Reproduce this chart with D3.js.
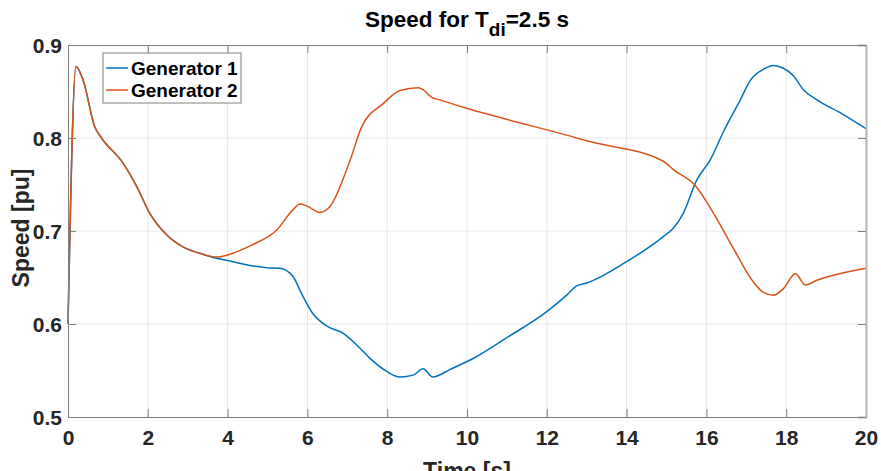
<!DOCTYPE html>
<html>
<head>
<meta charset="utf-8">
<script src="https://cdn.jsdelivr.net/npm/d3@7"></script>
<style>
  body { margin: 0; background: #fff; }
  svg { font-family: "Liberation Sans", Arial, sans-serif; }
</style>
</head>
<body>
<svg id="chart" width="881" height="471"></svg>
<script>
"use strict";

// Generator 1 (blue) - follows gen 2 until ~3.6 s
const gen1Time  = [0, 0.2, 0.38, 0.67, 0.84, 1.38, 1.72, 2.05, 2.47, 2.88, 3.3, 3.6, 4.13, 4.56, 4.98, 5.31, 5.64, 5.85, 6.14, 6.48, 6.9, 7.32, 7.57, 7.99, 8.32, 8.65, 8.9, 9.14, 9.57, 10.2, 10.95, 11.99, 12.5, 12.75, 13.0, 14.0, 14.92, 15.17, 15.42, 15.76, 16.09, 16.43, 16.85, 17.1, 17.43, 17.68, 17.93, 18.18, 18.43, 18.77, 19.4, 20];
const gen1Speed = [0.6, 0.877, 0.862, 0.812, 0.80, 0.773, 0.748, 0.719, 0.696, 0.683, 0.676, 0.672, 0.667, 0.663, 0.6605, 0.660, 0.651, 0.633, 0.611, 0.598, 0.590, 0.574, 0.563, 0.549, 0.543, 0.545, 0.552, 0.543, 0.551, 0.564, 0.584, 0.613, 0.631, 0.641, 0.644, 0.667, 0.694, 0.703, 0.719, 0.755, 0.776, 0.807, 0.841, 0.862, 0.874, 0.878, 0.875, 0.867, 0.852, 0.841, 0.826, 0.810];

// Generator 2 (orange)
const gen2Time  = [0, 0.2, 0.38, 0.67, 0.84, 1.38, 1.72, 2.05, 2.47, 2.88, 3.3, 3.72, 4.13, 4.56, 5.23, 5.64, 5.81, 5.98, 6.31, 6.56, 7.07, 7.36, 7.9, 8.32, 8.78, 8.9, 9.11, 9.32, 9.99, 10.83, 12.84, 13.0, 14.92, 15.17, 15.72, 16.18, 16.68, 17.18, 17.43, 17.68, 17.93, 18.23, 18.48, 18.77, 20];
const gen2Speed = [0.6, 0.877, 0.862, 0.812, 0.80, 0.773, 0.748, 0.719, 0.696, 0.683, 0.676, 0.672, 0.676, 0.684, 0.701, 0.723, 0.729, 0.727, 0.720, 0.726, 0.776, 0.812, 0.837, 0.851, 0.854, 0.852, 0.844, 0.841, 0.832, 0.822, 0.799, 0.797, 0.775, 0.766, 0.749, 0.719, 0.681, 0.645, 0.634, 0.631, 0.638, 0.654, 0.642, 0.647, 0.660];

const xTicks = [0, 2, 4, 6, 8, 10, 12, 14, 16, 18, 20];
const yTicks = [0.5, 0.6, 0.7, 0.8, 0.9];
const seriesNames = ["Generator 1", "Generator 2"];

const margin = {left: 68, right: 15, top: 45, bottom: 54};
const width = 881, height = 471;
const colors = ["#0072BD", "#D95319"];

const svg = d3.select("#chart");

const x = d3.scaleLinear().domain([0, 20]).range([margin.left, width - margin.right]);
const y = d3.scaleLinear().domain([0.5, 0.9]).range([height - margin.bottom, margin.top]);

// grid
const grid = svg.append("g");
grid.selectAll("line.gx")
    .data(xTicks.slice(1, -1))
    .enter().append("line")
    .attr("x1", d => x(d)).attr("x2", d => x(d))
    .attr("y1", y(0.5)).attr("y2", y(0.9))
    .attr("stroke", "#e6e6e6");
grid.selectAll("line.gy")
    .data(yTicks.slice(1, -1))
    .enter().append("line")
    .attr("y1", d => y(d)).attr("y2", d => y(d))
    .attr("x1", x(0)).attr("x2", x(20))
    .attr("stroke", "#e6e6e6");

// lines
const line = d3.line()
    .x(d => x(d[0]))
    .y(d => y(d[1]))
    .curve(d3.curveMonotoneX);

const series = [
    d3.zip(gen1Time, gen1Speed),
    d3.zip(gen2Time, gen2Speed)
];

svg.selectAll("path.series")
    .data(series)
    .enter().append("path")
    .attr("class", "series")
    .attr("d", line)
    .attr("fill", "none")
    .attr("stroke", (d, i) => colors[i])
    .attr("stroke-width", 1.5);

// axes (inward ticks, box)
const axisColor = "#7f7f7f";
const tickLen = 8;
const axBottom = svg.append("g")
    .attr("transform", "translate(0," + y(0.5) + ")")
    .call(d3.axisBottom(x).tickValues(xTicks).tickSize(-tickLen));
const axTop = svg.append("g")
    .attr("transform", "translate(0," + y(0.9) + ")")
    .call(d3.axisTop(x).tickValues(xTicks).tickSize(-tickLen).tickFormat(""));
const axLeft = svg.append("g")
    .attr("transform", "translate(" + x(0) + ",0)")
    .call(d3.axisLeft(y).tickValues(yTicks).tickSize(-tickLen).tickFormat(d3.format(".1f")));
const axRight = svg.append("g")
    .attr("transform", "translate(" + x(20) + ",0)")
    .call(d3.axisRight(y).tickValues(yTicks).tickSize(-tickLen).tickFormat(""));

[axBottom, axTop, axLeft, axRight].forEach(a => {
    a.select("path.domain").attr("stroke", axisColor).attr("stroke-width", 1);
    a.selectAll(".tick line").attr("stroke", axisColor);
    a.selectAll("text")
        .attr("fill", "#262626")
        .style("font-size", "21px")
        .style("font-weight", "bold");
});
axRight.select("path.domain").attr("stroke", "#b5b5b5").attr("stroke-width", 2);
axBottom.selectAll("text").attr("y", 28).attr("dy", 0);
axLeft.selectAll("text").attr("x", -6).attr("dy", "0.36em");

// title
const title = svg.append("text")
    .attr("x", (x(0) + x(20)) / 2)
    .attr("y", 27)
    .attr("text-anchor", "middle")
    .style("font-size", "22.5px")
    .style("font-weight", "bold")
    .attr("fill", "#000");
title.append("tspan").text("Speed for T");
title.append("tspan").attr("dy", 9).style("font-size", "19px").text("di");
title.append("tspan").attr("dy", -9).text("=2.5 s");

// axis labels
svg.append("text")
    .attr("x", (x(0) + x(20)) / 2)
    .attr("y", 479)
    .attr("text-anchor", "middle")
    .style("font-size", "23px")
    .style("font-weight", "bold")
    .attr("fill", "#262626")
    .text("Time [s]");

svg.append("text")
    .attr("transform", "translate(28.5,228) rotate(-90)")
    .attr("text-anchor", "middle")
    .style("font-size", "23px")
    .style("font-weight", "bold")
    .attr("fill", "#262626")
    .text("Speed [pu]");

// legend
const legend = svg.append("g").attr("transform", "translate(103,53)");
legend.append("rect")
    .attr("width", 138).attr("height", 50)
    .attr("fill", "#fff")
    .attr("stroke", "#808080")
    .attr("stroke-width", 1);
const entries = legend.selectAll("g.entry")
    .data(seriesNames)
    .enter().append("g")
    .attr("transform", (d, i) => "translate(0," + (15 + i * 22) + ")");
entries.append("line")
    .attr("x1", 3).attr("x2", 25)
    .attr("stroke", (d, i) => colors[i])
    .attr("stroke-width", 1.5);
entries.append("text")
    .attr("x", 28)
    .attr("dy", "0.35em")
    .style("font-size", "19px")
    .style("font-weight", "bold")
    .attr("fill", "#000")
    .text(d => d);
</script>
</body>
</html>
